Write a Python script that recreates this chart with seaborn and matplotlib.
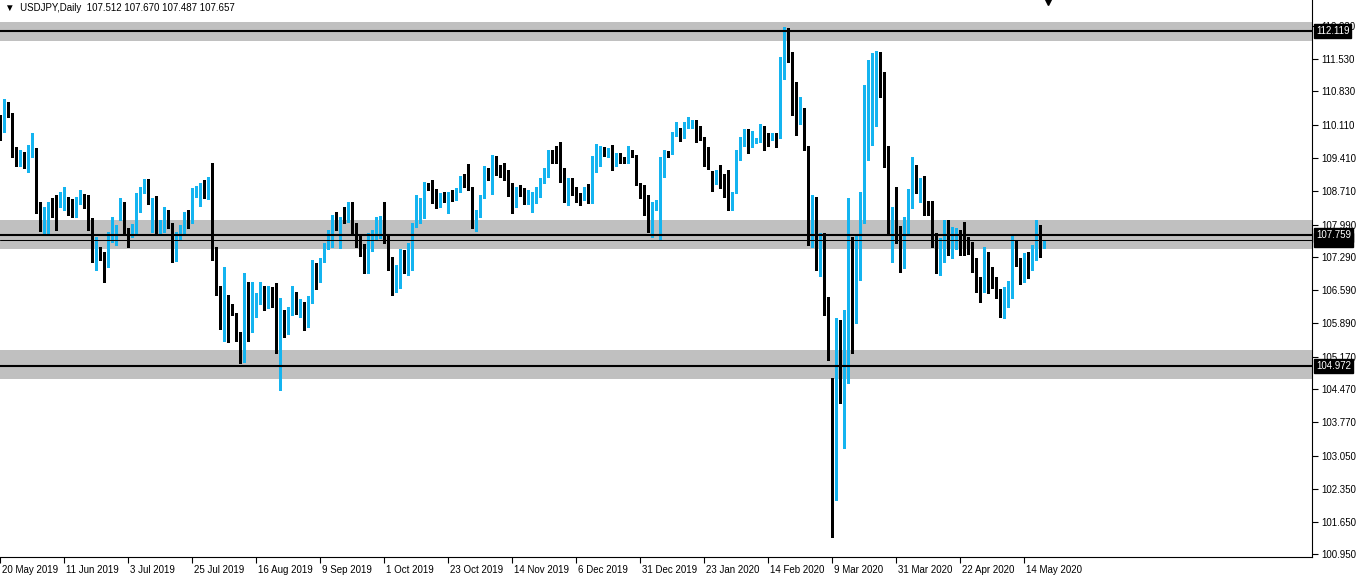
import numpy as np
import matplotlib
matplotlib.use('Agg')
import matplotlib.pyplot as plt
import matplotlib.transforms as mtransforms
import seaborn as sns

sns.set_theme(style='white')
plt.rcParams['font.family'] = ['Liberation Sans', 'DejaVu Sans']

# USDJPY daily candles, first bar = 20 May 2019
opens = [
    110.26, 110.04, 110.47, 110.33, 109.58, 109.26, 109.45, 109.33, 109.56, 109.57,
    108.26, 108.03, 108.12, 108.44, 108.38, 108.41, 108.41, 108.53, 108.50, 108.31,
    108.46, 108.51, 108.43, 108.10, 107.27, 107.29, 107.29, 107.16, 107.77, 107.79,
    108.17, 108.44, 107.86, 107.77, 107.80, 108.41, 108.69, 108.85, 108.44, 108.48,
    107.86, 107.87, 108.21, 107.98, 107.27, 107.70, 107.82, 108.21, 108.14, 108.60,
    108.62, 108.76, 108.55, 108.74, 107.32, 106.52, 105.94, 106.46, 106.25, 106.06,
    105.63, 105.30, 106.75, 105.85, 106.06, 106.32, 106.63, 106.22, 106.61, 106.42,
    105.10, 106.13, 105.70, 106.10, 106.51, 106.04, 106.17, 105.94, 106.34, 106.94,
    106.88, 107.20, 107.50, 107.80, 108.09, 107.52, 108.16, 108.09, 108.41, 108.00,
    107.73, 107.53, 107.06, 107.73, 107.73, 107.91, 108.07, 107.73, 107.18, 106.89,
    106.66, 107.23, 107.06, 107.43, 107.94, 108.34, 108.37, 108.83, 108.73, 108.62,
    108.39, 108.60, 108.46, 108.66, 108.57, 108.73, 108.94, 108.87, 108.76, 108.02,
    108.19, 108.57, 109.17, 108.95, 109.28, 109.19, 109.04, 108.99, 108.83, 108.37,
    108.78, 108.66, 108.51, 108.55, 108.60, 108.60, 108.90, 109.01, 109.54, 109.51,
    109.54, 108.98, 108.60, 108.85, 108.74, 108.62, 108.53, 108.71, 108.53, 109.28,
    109.26, 109.54, 109.47, 109.58, 109.35, 109.40, 109.38, 109.33, 109.54, 109.42,
    108.85, 108.73, 108.57, 107.80, 108.31, 108.44, 109.05, 109.50, 109.51, 109.90,
    109.97, 109.85, 110.09, 110.06, 110.18, 109.85, 109.83, 109.47, 108.94, 108.87,
    109.10, 108.98, 108.95, 108.43, 108.67, 109.51, 109.78, 109.99, 109.74, 109.74,
    109.76, 110.08, 109.83, 109.83, 109.85, 109.85, 111.32, 112.08, 111.32, 110.68,
    110.21, 110.42, 109.59, 107.53, 108.37, 107.16, 107.60, 106.22, 104.35, 102.54,
    105.74, 104.53, 104.71, 107.32, 105.92, 107.70, 108.05, 110.68, 110.75, 111.18,
    111.22, 111.20, 109.50, 107.75, 107.80, 107.58, 107.39, 107.86, 108.37, 109.21,
    108.71, 108.81, 108.41, 108.34, 107.75, 107.20, 107.30, 107.94, 107.41, 107.59,
    107.77, 107.73, 107.55, 107.55, 107.22, 106.84, 106.59, 107.13, 106.79, 106.72,
    106.51, 106.08, 106.25, 106.45, 107.60, 107.15, 107.02, 107.27, 107.08, 107.27,
    107.72, 107.512,
]
highs = [
    110.33, 110.67, 110.61, 110.36, 109.65, 109.58, 109.54, 109.69, 109.94, 109.62,
    108.46, 108.37, 108.48, 108.55, 108.62, 108.69, 108.80, 108.57, 108.53, 108.58,
    108.73, 108.64, 108.62, 108.12, 107.73, 107.52, 107.41, 107.84, 108.16, 107.98,
    108.55, 108.48, 107.91, 108.01, 108.66, 108.80, 108.96, 108.97, 108.55, 108.60,
    108.09, 108.36, 108.31, 108.02, 107.84, 107.98, 108.26, 108.29, 108.76, 108.81,
    108.87, 108.94, 109.00, 109.30, 107.52, 106.68, 107.08, 106.49, 106.29, 106.10,
    105.70, 106.96, 106.77, 106.77, 106.52, 106.77, 106.68, 106.68, 106.65, 106.75,
    106.42, 106.17, 106.24, 106.68, 106.56, 106.39, 106.34, 106.47, 107.23, 107.16,
    107.27, 107.59, 107.87, 108.19, 108.26, 108.16, 108.37, 108.48, 108.48, 108.03,
    107.79, 107.57, 107.80, 107.87, 108.16, 108.17, 108.46, 107.77, 107.29, 107.13,
    107.46, 107.45, 107.60, 108.02, 108.62, 108.55, 108.90, 108.87, 108.95, 108.74,
    108.67, 108.69, 108.69, 108.73, 108.76, 109.03, 109.07, 109.28, 108.80, 108.30,
    108.62, 109.24, 109.19, 109.47, 109.45, 109.26, 109.30, 109.15, 108.87, 108.78,
    108.83, 108.76, 108.73, 108.69, 108.80, 108.98, 109.19, 109.59, 109.58, 109.67,
    109.74, 109.19, 108.98, 108.98, 108.78, 108.67, 108.78, 108.85, 109.45, 109.71,
    109.67, 109.65, 109.62, 109.69, 109.52, 109.51, 109.42, 109.67, 109.59, 109.47,
    108.87, 108.83, 108.62, 108.48, 108.51, 109.44, 109.58, 109.55, 109.97, 110.18,
    110.04, 110.18, 110.28, 110.21, 110.22, 110.09, 109.85, 109.65, 109.14, 109.15,
    109.26, 109.07, 109.15, 108.69, 109.58, 109.86, 110.02, 110.02, 109.99, 109.83,
    110.14, 110.09, 109.94, 109.95, 109.94, 111.57, 112.21, 112.18, 111.68, 111.04,
    110.70, 110.47, 109.67, 108.62, 108.58, 107.80, 107.80, 106.45, 104.71, 105.99,
    105.95, 106.17, 108.55, 107.73, 107.77, 108.69, 110.97, 111.51, 111.64, 111.70,
    111.68, 111.25, 109.67, 108.36, 108.78, 107.96, 108.16, 108.74, 109.42, 109.26,
    108.98, 109.03, 108.50, 108.50, 107.80, 107.70, 108.09, 108.09, 107.94, 107.91,
    107.87, 108.05, 107.73, 107.62, 107.27, 106.88, 107.50, 107.41, 107.09, 106.88,
    106.61, 106.66, 106.79, 107.77, 107.66, 107.27, 107.39, 107.41, 107.55, 108.09,
    107.98, 107.670,
]
lows = [
    109.79, 109.97, 110.29, 109.44, 109.24, 109.24, 109.19, 109.12, 109.44, 108.23,
    107.86, 107.80, 107.80, 108.16, 107.87, 108.37, 108.30, 108.19, 108.16, 108.14,
    108.43, 108.34, 107.87, 107.20, 107.02, 107.23, 106.77, 107.09, 107.62, 107.55,
    108.09, 107.77, 107.52, 107.73, 107.77, 108.26, 108.66, 108.43, 107.84, 107.79,
    107.80, 107.82, 107.91, 107.20, 107.22, 107.67, 107.79, 107.92, 108.03, 108.58,
    108.39, 108.55, 108.53, 107.23, 106.49, 105.77, 105.51, 105.49, 106.06, 105.51,
    105.04, 105.06, 105.51, 105.70, 106.02, 106.29, 106.17, 106.20, 106.24, 105.24,
    104.46, 105.58, 105.65, 106.06, 106.08, 106.02, 105.74, 105.81, 106.32, 106.61,
    106.77, 107.18, 107.46, 107.50, 107.87, 107.48, 108.03, 108.05, 107.79, 107.52,
    107.32, 106.95, 106.95, 107.43, 107.67, 107.70, 107.59, 107.03, 106.49, 106.56,
    106.63, 106.95, 106.91, 107.02, 107.93, 108.02, 108.12, 108.73, 108.44, 108.34,
    108.36, 108.46, 108.23, 108.50, 108.51, 108.69, 108.78, 108.73, 107.91, 107.86,
    108.16, 108.55, 108.94, 108.64, 109.05, 109.01, 108.94, 108.60, 108.23, 108.36,
    108.60, 108.43, 108.43, 108.26, 108.44, 108.57, 108.88, 109.00, 109.31, 109.31,
    108.90, 108.46, 108.41, 108.62, 108.48, 108.41, 108.51, 108.44, 108.44, 109.12,
    109.24, 109.45, 109.44, 109.15, 109.24, 109.31, 109.31, 109.31, 109.42, 108.83,
    108.55, 108.19, 107.82, 107.73, 108.30, 107.65, 109.01, 109.42, 109.50, 109.87,
    109.78, 109.83, 110.04, 110.04, 109.74, 109.79, 109.24, 109.17, 108.71, 108.85,
    108.76, 108.57, 108.29, 108.30, 108.66, 109.37, 109.67, 109.51, 109.65, 109.72,
    109.74, 109.59, 109.67, 109.79, 109.64, 109.83, 111.09, 111.46, 110.33, 109.90,
    110.14, 109.57, 107.55, 107.52, 107.02, 106.89, 106.06, 105.09, 101.33, 102.11,
    104.19, 103.22, 104.60, 105.24, 105.88, 106.81, 108.02, 109.37, 109.69, 110.09,
    110.72, 109.22, 107.80, 107.20, 107.59, 106.98, 107.06, 107.80, 108.34, 108.66,
    108.48, 108.19, 108.19, 107.52, 106.96, 106.91, 107.18, 107.34, 107.27, 107.46,
    107.34, 107.34, 107.36, 106.98, 106.54, 106.34, 106.56, 106.52, 106.63, 106.42,
    106.02, 105.99, 106.24, 106.42, 107.11, 106.72, 106.77, 106.84, 107.03, 107.23,
    107.30, 107.487,
]
closes = [
    110.04, 110.47, 110.33, 109.58, 109.26, 109.47, 109.35, 109.58, 109.60, 108.24,
    108.03, 108.16, 108.46, 108.37, 108.17, 108.44, 108.51, 108.50, 108.37, 108.55,
    108.54, 108.43, 108.09, 107.27, 107.34, 107.26, 107.16, 107.80, 107.80, 107.94,
    108.43, 107.87, 107.82, 107.84, 108.44, 108.73, 108.85, 108.44, 108.50, 107.87,
    107.89, 108.21, 107.94, 107.28, 107.73, 107.84, 108.21, 108.16, 108.62, 108.64,
    108.76, 108.58, 108.74, 107.32, 106.58, 105.94, 106.46, 106.25, 106.07, 105.63,
    105.30, 106.75, 106.01, 106.13, 106.38, 106.65, 106.20, 106.63, 106.44, 105.40,
    106.13, 105.74, 106.13, 106.51, 106.24, 106.18, 105.94, 106.44, 106.96, 106.89,
    107.23, 107.53, 107.82, 108.10, 108.05, 108.14, 108.10, 108.46, 107.80, 107.53,
    107.52, 107.08, 107.77, 107.82, 108.02, 108.09, 107.74, 107.18, 106.89, 107.09,
    107.25, 107.08, 107.43, 107.94, 108.43, 108.39, 108.85, 108.74, 108.62, 108.37,
    108.60, 108.48, 108.67, 108.61, 108.66, 108.95, 108.87, 108.83, 108.02, 108.17,
    108.58, 109.15, 108.95, 109.28, 109.21, 109.03, 109.01, 108.80, 108.37, 108.76,
    108.62, 108.51, 108.62, 108.60, 108.64, 108.93, 109.07, 109.52, 109.49, 109.47,
    108.93, 108.60, 108.85, 108.73, 108.57, 108.53, 108.73, 108.55, 109.28, 109.35,
    109.57, 109.49, 109.58, 109.33, 109.42, 109.37, 109.35, 109.62, 109.49, 108.85,
    108.66, 108.55, 108.09, 108.36, 108.46, 109.12, 109.52, 109.45, 109.94, 109.97,
    109.86, 110.16, 110.14, 110.18, 109.85, 109.81, 109.45, 109.24, 108.88, 109.12,
    108.98, 108.90, 108.36, 108.67, 109.52, 109.83, 109.99, 109.74, 109.88, 109.79,
    110.09, 109.81, 109.76, 109.86, 109.83, 111.32, 112.08, 111.50, 110.72, 110.21,
    110.45, 109.58, 108.10, 108.39, 107.18, 107.60, 106.24, 105.09, 102.48, 105.74,
    104.92, 104.71, 108.05, 105.99, 107.66, 108.07, 110.70, 110.73, 111.27, 111.23,
    111.18, 109.62, 107.96, 107.87, 107.60, 107.23, 107.93, 108.43, 109.26, 108.74,
    108.81, 108.48, 108.31, 107.75, 107.20, 107.43, 107.91, 107.50, 107.65, 107.77,
    107.62, 107.60, 107.45, 107.23, 106.86, 106.59, 107.16, 106.88, 106.70, 106.51,
    106.08, 106.27, 106.61, 107.62, 107.13, 107.01, 107.25, 107.08, 107.52, 107.72,
    107.52, 107.657,
]

date_labels = ['20 May 2019', '11 Jun 2019', '3 Jul 2019', '25 Jul 2019', '16 Aug 2019',
               '9 Sep 2019', '1 Oct 2019', '23 Oct 2019', '14 Nov 2019', '6 Dec 2019',
               '31 Dec 2019', '23 Jan 2020', '14 Feb 2020', '9 Mar 2020', '31 Mar 2020',
               '22 Apr 2020', '14 May 2020']
bars_per_label = 16

price_ticks = [112.230, 111.530, 110.830, 110.110, 109.410, 108.710, 107.990, 107.290,
               106.590, 105.890, 105.170, 104.470, 103.770, 103.050, 102.350, 101.650,
               100.950]

# support / resistance zones and lines
zones = [(111.90, 112.31), (107.47, 108.09), (104.69, 105.31)]
levels = [112.119, 107.759, 104.972]
bid = 107.657

bull_col = '#14b4f0'
bear_col = '#000000'
zone_col = '#c0c0c0'

o = np.array(opens)
h = np.array(highs)
l = np.array(lows)
c = np.array(closes)
x = np.arange(len(o))
cols = np.where(c >= o, bull_col, bear_col)

fig = plt.figure(figsize=(13.58, 5.78), dpi=100)
ax = fig.add_axes([0, 21 / 578, 1312 / 1358, 557 / 578])
ax.set_facecolor('white')

for lo, hi in zones:
    ax.axhspan(lo, hi, color=zone_col, lw=0, zorder=0)

ax.vlines(x, np.minimum(l, np.minimum(o, c)), np.maximum(h, np.maximum(o, c)),
          colors=cols, lw=0.75, antialiased=False, zorder=2)
body = np.maximum(np.abs(c - o), 0.02)
ax.bar(x, body, bottom=np.minimum(o, c), width=0.75, color=cols, lw=0,
       antialiased=False, zorder=3)

for lv in levels:
    ax.axhline(lv, color='black', lw=1.5, zorder=4)
ax.axhline(bid, color='black', lw=0.75, zorder=4)

ax.set_xlim(0, 1312 / 4)
ax.set_ylim(100.896, 112.78)

# price axis on the right
ax.yaxis.tick_right()
ax.set_yticks(price_ticks)
ax.set_yticklabels([f'{p:.3f}' for p in price_ticks])
ax.tick_params(axis='y', which='both', right=True, left=False, direction='out',
               length=4, width=0.8, color='black', labelsize=7, pad=3,
               labelcolor='black')

# date axis
ax.set_xticks([i * bars_per_label for i in range(len(date_labels))])
ax.set_xticklabels(date_labels)
ax.tick_params(axis='x', which='both', bottom=True, direction='out', length=4,
               width=0.8, color='black', labelsize=7, pad=2, labelcolor='black')
offset = mtransforms.ScaledTranslation(2 / 100, 0, fig.dpi_scale_trans)
for lbl in ax.get_xticklabels():
    lbl.set_horizontalalignment('left')
    lbl.set_transform(lbl.get_transform() + offset)

for side in ['top', 'left']:
    ax.spines[side].set_visible(False)
for side in ['right', 'bottom']:
    ax.spines[side].set_color('black')
    ax.spines[side].set_linewidth(0.8)
ax.grid(False)

# price tags on the axis
trans = mtransforms.blended_transform_factory(ax.transAxes, ax.transData)
for lv in [bid, levels[0], levels[1], levels[2]]:
    ax.text(1.0 + 4 / 1312, lv, f'{lv:.3f}', transform=trans, ha='left', va='center',
            color='white', fontsize=7, clip_on=False, zorder=10,
            bbox=dict(boxstyle='square,pad=0.2', fc='black', ec='black'))

fig.text(5 / 1358, 1 - 8 / 578, '\u25bc  USDJPY,Daily  107.512 107.670 107.487 107.657',
         fontsize=7, va='center', ha='left', color='black')

# chart shift marker
ax.plot([len(o)], [1 - 2 / 557], marker='v', color='black', ms=4.5,
        transform=mtransforms.blended_transform_factory(ax.transData, ax.transAxes),
        clip_on=False)

fig.savefig('out.png', dpi=100, facecolor='white')
